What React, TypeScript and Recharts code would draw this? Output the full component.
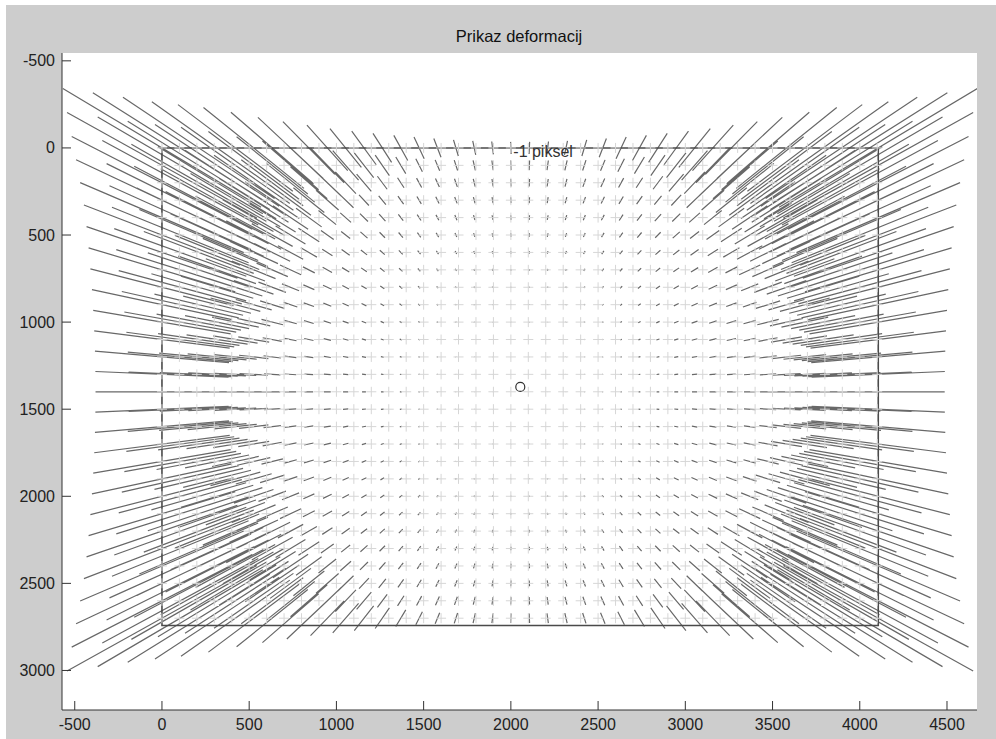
import React from 'react';
import { ComposedChart, XAxis, YAxis, Line, Scatter, CartesianGrid } from 'recharts';

// ---- axes ----
const X_TICKS = [-500, 0, 500, 1000, 1500, 2000, 2500, 3000, 3500, 4000, 4500];
const Y_TICKS = [-500, 0, 500, 1000, 1500, 2000, 2500, 3000];
const X_DOMAIN = [-573, 4672];
const Y_DOMAIN = [-545, 3227];

const TITLE = 'Prikaz deformacij';

// image frame corners (pixels)
const FRAME_X = [0, 4106, 4106, 0, 0];
const FRAME_Y = [0, 0, 2742, 2742, 0];

// principal point marker
const PRINCIPAL = [{ x: 2054, y: 1372 }];
// distortion centre
const CENTER_X = 2053;
const CENTER_Y = 1400;

// contour label
const LABELS = [{ x: 2014, y: 53, text: '-1 piksel' }];

// grid of deformation vectors (columns / rows, pixels)
const SEG_X = [0, 105, 211, 316, 421, 526, 632, 737, 842, 948, 1053, 1158, 1263, 1369, 1474, 1579, 1685, 1790, 1895, 2000,
  2106, 2211, 2316, 2421, 2527, 2632, 2737, 2843, 2948, 3053, 3158, 3264, 3369, 3474, 3580, 3685, 3790, 3895, 4001, 4106];
const SEG_Y = [0, 100, 200, 300, 400, 500, 600, 700, 800, 900, 1000, 1100, 1200, 1300, 1400, 1500, 1600, 1700, 1800, 1900,
  2000, 2100, 2200, 2300, 2400, 2500, 2600, 2700];

// grid of reference crosses
const CROSS_X = [0, 100, 200, 300, 400, 500, 600, 700, 800, 900, 1000, 1100, 1200, 1300, 1400, 1500, 1600, 1700, 1800, 1900,
  2000, 2100, 2200, 2300, 2400, 2500, 2600, 2700, 2800, 2900, 3000, 3100, 3200, 3300, 3400, 3500, 3600, 3700, 3800, 3900, 4000, 4100];
const CROSS_Y = [0, 100, 200, 300, 400, 500, 600, 700, 800, 900, 1000, 1100, 1200, 1300, 1400, 1500, 1600, 1700, 1800, 1900,
  2000, 2100, 2200, 2300, 2400, 2500, 2600, 2700];

// radial deformation profile (relative displacement vs radius)
const PROFILE_R = [0, 500, 800, 1000, 1200, 1400, 1480, 1600, 1720, 1800, 1900, 2050, 2230, 2430, 2500];
const PROFILE_K = [0, 0.004, 0.01, 0.015, 0.02, 0.028, 0.044, 0.066, 0.09, 0.11, 0.135, 0.185, 0.215, 0.265, 0.28];
const Y_RATIO = 0.88;

function factorAt(r: number): number {
  for (let i = 0; i < PROFILE_R.length - 1; i++) {
    if (r <= PROFILE_R[i + 1]) {
      const t = (r - PROFILE_R[i]) / (PROFILE_R[i + 1] - PROFILE_R[i]);
      return PROFILE_K[i] + t * (PROFILE_K[i + 1] - PROFILE_K[i]);
    }
  }
  return PROFILE_K[PROFILE_K.length - 1];
}

const segData: { x: number; y: number | null }[] = [];
SEG_Y.forEach((gy) => {
  SEG_X.forEach((gx) => {
    const dx = gx - CENTER_X;
    const dy = gy - CENTER_Y;
    const f = factorAt(Math.hypot(dx, dy));
    const ddx = dx * f;
    const ddy = dy * f * Y_RATIO;
    segData.push({ x: gx - ddx, y: gy - ddy });
    segData.push({ x: gx + ddx, y: gy + ddy });
    segData.push({ x: gx + ddx, y: null });
  });
});

const crossData: { x: number; y: number }[] = [];
CROSS_Y.forEach((y) => CROSS_X.forEach((x) => crossData.push({ x, y })));

const frameData = FRAME_X.map((x, i) => ({ x, y: FRAME_Y[i] }));

const FONT = 'Liberation Sans, Arial, Helvetica, sans-serif';

const XTick = (props: any) => {
  const { x, y, payload } = props;
  return (
    <g>
      <line x1={x} x2={x} y1={y} y2={y - 9} stroke="#333" strokeWidth={1} />
      <text x={x} y={y + 20} textAnchor="middle" fontSize={16} fontFamily={FONT} fill="#222">
        {payload.value}
      </text>
    </g>
  );
};

const YTick = (props: any) => {
  const { x, y, payload } = props;
  return (
    <g>
      <line x1={x} x2={x + 9} y1={y} y2={y} stroke="#333" strokeWidth={1} />
      <text x={x - 7} y={y + 5.5} textAnchor="end" fontSize={16} fontFamily={FONT} fill="#222">
        {payload.value}
      </text>
    </g>
  );
};

const CrossShape = (props: any) => {
  const { cx, cy } = props;
  return <path d={`M${cx - 5},${cy}h10M${cx},${cy - 5}v10`} stroke="#d6d6d6" strokeWidth={1} fill="none" />;
};

const CircleShape = (props: any) => {
  const { cx, cy } = props;
  return <circle cx={cx} cy={cy} r={4.5} stroke="#333" strokeWidth={1.2} fill="none" />;
};

const LabelShape = (props: any) => {
  const { cx, cy, payload } = props;
  return (
    <text x={cx} y={cy} fontSize={16} fontFamily={FONT} fill="#333">
      {payload.text}
    </text>
  );
};

export default function App() {
  return (
    <div style={{ position: 'absolute', left: 0, top: 0, width: 996, height: 739, background: '#fff', overflow: 'hidden' }}>
      <div style={{ position: 'absolute', left: 6, top: 5, width: 990, height: 734, background: '#cdcdcd' }} />
      <div style={{ position: 'absolute', left: 0, top: 0 }}>
        <ComposedChart width={996} height={739} margin={{ top: 53, right: 19, bottom: 0, left: 0 }}>
          <CartesianGrid horizontal={false} vertical={false} fill="#ffffff" stroke="none" />
          <XAxis
            type="number"
            dataKey="x"
            domain={X_DOMAIN}
            allowDataOverflow
            ticks={X_TICKS}
            interval={0}
            height={29}
            tickLine={false}
            tickSize={0}
            tickMargin={0}
            axisLine={{ stroke: '#333', strokeWidth: 1 }}
            tick={<XTick />}
          />
          <YAxis
            type="number"
            dataKey="y"
            domain={Y_DOMAIN}
            allowDataOverflow
            reversed
            ticks={Y_TICKS}
            interval={0}
            width={62}
            tickLine={false}
            tickSize={0}
            tickMargin={0}
            axisLine={{ stroke: '#333', strokeWidth: 1 }}
            tick={<YTick />}
          />
          <Line
            data={segData}
            dataKey="y"
            type="linear"
            stroke="#686868"
            strokeWidth={1.2}
            dot={false}
            activeDot={false}
            connectNulls={false}
            isAnimationActive={false}
          />
          <Scatter data={crossData} shape={<CrossShape />} isAnimationActive={false} />
          <Line
            data={frameData}
            dataKey="y"
            type="linear"
            stroke="#4a4a4a"
            strokeWidth={1.6}
            dot={false}
            activeDot={false}
            isAnimationActive={false}
          />
          <Scatter data={PRINCIPAL} shape={<CircleShape />} isAnimationActive={false} />
          <Scatter data={LABELS} shape={<LabelShape />} isAnimationActive={false} />
        </ComposedChart>
      </div>
      <div
        style={{
          position: 'absolute',
          left: 519,
          top: 28,
          transform: 'translateX(-50%)',
          fontFamily: FONT,
          fontSize: 16.5,
          lineHeight: '16px',
          color: '#111',
          whiteSpace: 'nowrap',
        }}
      >
        {TITLE}
      </div>
    </div>
  );
}
